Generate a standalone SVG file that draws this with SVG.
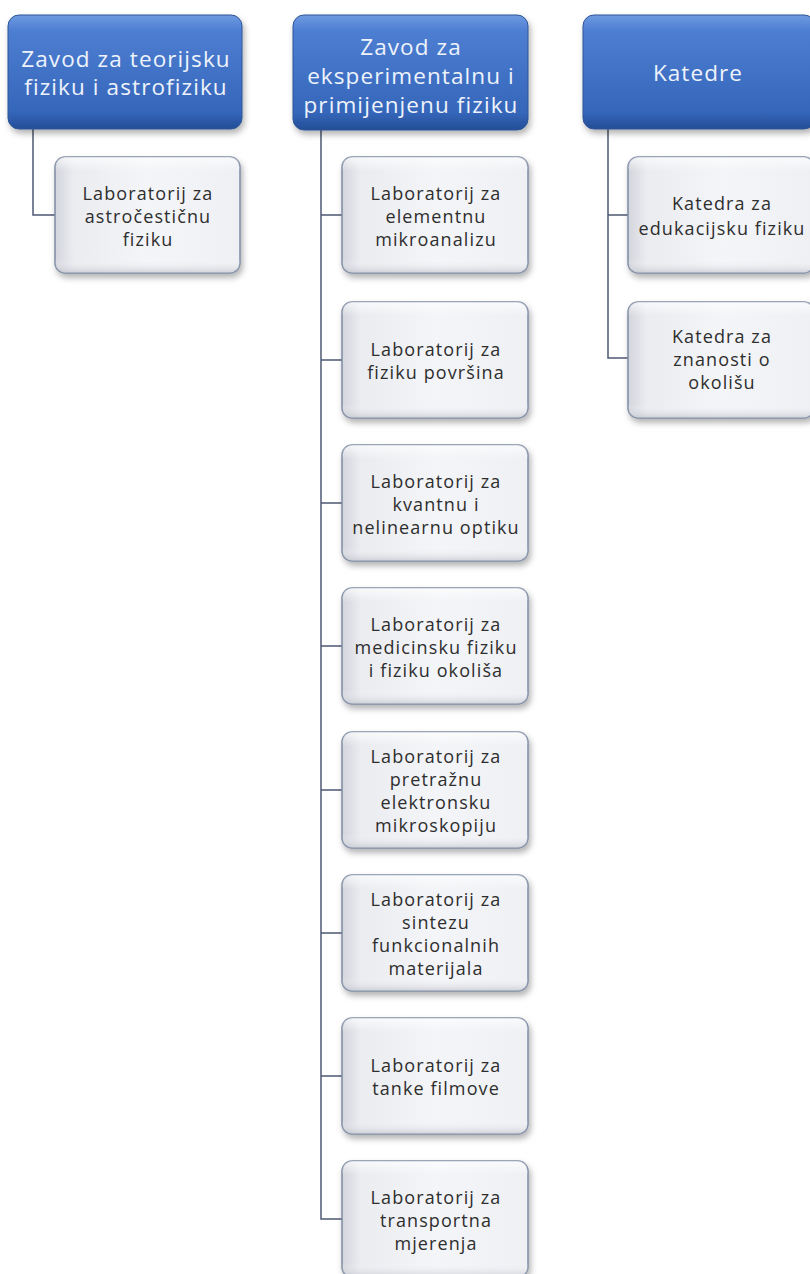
<svg xmlns="http://www.w3.org/2000/svg" width="810" height="1274" viewBox="0 0 810 1274">
<defs>
<linearGradient id="gHead" x1="0" y1="0" x2="0" y2="1">
<stop offset="0" stop-color="#6f9ae0"/>
<stop offset="0.14" stop-color="#4d7ed2"/>
<stop offset="0.85" stop-color="#3566ba"/>
<stop offset="1" stop-color="#244d96"/>
</linearGradient>
<linearGradient id="gChild" x1="0" y1="0" x2="1" y2="0">
<stop offset="0" stop-color="#d3d5dc"/>
<stop offset="0.1" stop-color="#eaecf0"/>
<stop offset="0.5" stop-color="#f4f5f8"/>
<stop offset="1" stop-color="#eef0f4"/>
</linearGradient>
<linearGradient id="gChildV" x1="0" y1="0" x2="0" y2="1">
<stop offset="0" stop-color="#ffffff" stop-opacity="0.7"/>
<stop offset="0.12" stop-color="#ffffff" stop-opacity="0"/>
<stop offset="0.88" stop-color="#ffffff" stop-opacity="0"/>
<stop offset="1" stop-color="#b9bcc6" stop-opacity="0.6"/>
</linearGradient>
<filter id="sh" x="-10%" y="-10%" width="130%" height="130%">
<feDropShadow dx="2" dy="4" stdDeviation="3" flood-color="#000" flood-opacity="0.3"/>
</filter>
</defs>
<style>
.head rect.b{fill:url(#gHead);stroke:#2f5597;stroke-width:1;filter:url(#sh)}
.child rect.b{fill:url(#gChild);stroke:#7d8aa3;stroke-width:1.5;filter:url(#sh)}
.child rect.v{fill:url(#gChildV);stroke:none}
.head text{font-family:"Open Sans","Liberation Sans",sans-serif;font-size:22.5px;letter-spacing:1.1px;fill:#eef3fb;text-anchor:middle}
.child text{font-family:"Open Sans","Liberation Sans",sans-serif;font-size:18px;letter-spacing:1.1px;fill:#2e2e2e;text-anchor:middle}
.conn{fill:none;stroke:#4d5872;stroke-width:1.5}
</style>
<g id="connectors">
<path class="conn" d="M33,128 V215 H55"/>
<path class="conn" d="M321,130 V1219 H342 M321,215 H342 M321,360 H342 M321,503 H342 M321,646 H342 M321,790 H342 M321,933 H342 M321,1076 H342"/>
<path class="conn" d="M608,128 V358 H628 M608,215 H628"/>
</g>
<g id="head1" class="head">
<rect class="b" x="8" y="15" width="234" height="114" rx="11"/>
<text x="126" y="67">Zavod za teorijsku</text>
<text x="126" y="95">fiziku i astrofiziku</text>
</g>
<g id="head2" class="head">
<rect class="b" x="293" y="15" width="235" height="115" rx="11"/>
<text x="411" y="55">Zavod za</text>
<text x="411" y="84">eksperimentalnu i</text>
<text x="411" y="113">primijenjenu fiziku</text>
</g>
<g id="head3" class="head">
<rect class="b" x="583" y="15" width="232" height="114" rx="11"/>
<text x="698" y="81">Katedre</text>
</g>
<g id="c1" class="child">
<rect class="b" x="55" y="157" width="185" height="116" rx="10"/>
<rect class="v" x="55" y="157" width="185" height="116" rx="10"/>
<text x="148" y="200">Laboratorij za</text>
<text x="148" y="223">astročestičnu</text>
<text x="148" y="246">fiziku</text>
</g>
<g id="c2_1" class="child">
<rect class="b" x="342" y="157" width="186" height="116" rx="10"/>
<rect class="v" x="342" y="157" width="186" height="116" rx="10"/>
<text x="436" y="200">Laboratorij za</text>
<text x="436" y="223">elementnu</text>
<text x="436" y="246">mikroanalizu</text>
</g>
<g id="c2_2" class="child">
<rect class="b" x="342" y="302" width="186" height="116" rx="10"/>
<rect class="v" x="342" y="302" width="186" height="116" rx="10"/>
<text x="436" y="356">Laboratorij za</text>
<text x="436" y="379">fiziku površina</text>
</g>
<g id="c2_3" class="child">
<rect class="b" x="342" y="445" width="186" height="116" rx="10"/>
<rect class="v" x="342" y="445" width="186" height="116" rx="10"/>
<text x="436" y="488">Laboratorij za</text>
<text x="436" y="511">kvantnu i</text>
<text x="436" y="534">nelinearnu optiku</text>
</g>
<g id="c2_4" class="child">
<rect class="b" x="342" y="588" width="186" height="116" rx="10"/>
<rect class="v" x="342" y="588" width="186" height="116" rx="10"/>
<text x="436" y="631">Laboratorij za</text>
<text x="436" y="654">medicinsku fiziku</text>
<text x="436" y="677">i fiziku okoliša</text>
</g>
<g id="c2_5" class="child">
<rect class="b" x="342" y="732" width="186" height="116" rx="10"/>
<rect class="v" x="342" y="732" width="186" height="116" rx="10"/>
<text x="436" y="763">Laboratorij za</text>
<text x="436" y="786">pretražnu</text>
<text x="436" y="809">elektronsku</text>
<text x="436" y="832">mikroskopiju</text>
</g>
<g id="c2_6" class="child">
<rect class="b" x="342" y="875" width="186" height="116" rx="10"/>
<rect class="v" x="342" y="875" width="186" height="116" rx="10"/>
<text x="436" y="906">Laboratorij za</text>
<text x="436" y="929">sintezu</text>
<text x="436" y="952">funkcionalnih</text>
<text x="436" y="975">materijala</text>
</g>
<g id="c2_7" class="child">
<rect class="b" x="342" y="1018" width="186" height="116" rx="10"/>
<rect class="v" x="342" y="1018" width="186" height="116" rx="10"/>
<text x="436" y="1072">Laboratorij za</text>
<text x="436" y="1095">tanke filmove</text>
</g>
<g id="c2_8" class="child">
<rect class="b" x="342" y="1161" width="186" height="116" rx="10"/>
<rect class="v" x="342" y="1161" width="186" height="116" rx="10"/>
<text x="436" y="1204">Laboratorij za</text>
<text x="436" y="1227">transportna</text>
<text x="436" y="1250">mjerenja</text>
</g>
<g id="c3_1" class="child">
<rect class="b" x="628" y="157" width="186" height="116" rx="10"/>
<rect class="v" x="628" y="157" width="186" height="116" rx="10"/>
<text x="722" y="210">Katedra za</text>
<text x="722" y="235">edukacijsku fiziku</text>
</g>
<g id="c3_2" class="child">
<rect class="b" x="628" y="302" width="186" height="116" rx="10"/>
<rect class="v" x="628" y="302" width="186" height="116" rx="10"/>
<text x="722" y="343">Katedra za</text>
<text x="722" y="366">znanosti o</text>
<text x="722" y="389">okolišu</text>
</g>
</svg>
